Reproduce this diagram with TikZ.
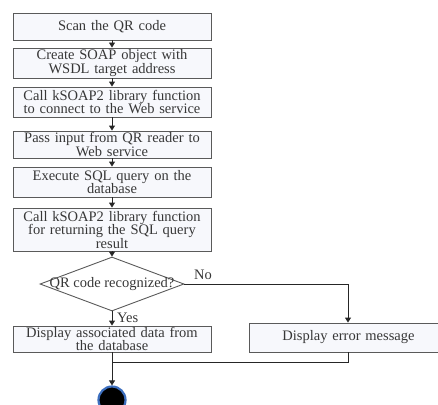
\documentclass[tikz,border=0pt]{standalone}
\usepackage{fontspec}
\setmainfont{Liberation Serif}
\usetikzlibrary{arrows.meta,shapes.geometric}
\definecolor{boxfill}{RGB}{247,248,252}
\definecolor{boxline}{RGB}{90,90,90}
\definecolor{txt}{RGB}{55,55,55}
\definecolor{rim}{RGB}{60,110,190}
\tikzset{
  procbox/.style={draw=boxline, fill=boxfill, line width=0.9pt, minimum width=198pt, text width=196pt, align=center, inner sep=0pt, text=txt, font={\fontsize{14.5}{13.5}\selectfont}},
  decision/.style={draw=boxline, diamond, line width=0.9pt, minimum width=144pt, minimum height=54pt, inner sep=0pt},
  lbl/.style={text=txt, font={\fontsize{14.5}{13.5}\selectfont}, inner sep=0pt},
  flow/.style={draw=black!85, line width=0.9pt, -{Triangle[length=5pt,width=6pt]}},
  plain/.style={draw=black!85, line width=0.9pt},
  endnode/.style={circle, fill=black, draw=rim, line width=2.2pt, minimum size=27pt, inner sep=0pt}
}
\begin{document}
\begin{tikzpicture}[x=1pt,y=-1pt]
\useasboundingbox (0,0) rectangle (438,404);
\clip (0,0) rectangle (438,404);
\node[procbox, minimum height=27pt] (b1) at (112,26.5) {Scan the QR code};
\node[procbox, minimum height=30pt] (b2) at (112,63) {Create SOAP object with\\WSDL target address};
\node[procbox, minimum height=30pt] (b3) at (112,102) {Call kSOAP2 library function\\to connect to the Web service};
\node[procbox, minimum height=27pt] (b4) at (112,144.5) {Pass input from QR reader to\\Web service};
\node[procbox, minimum height=30pt] (b5) at (112,182) {Execute SQL query on the\\database};
\node[procbox, minimum height=43pt] (b6) at (112,229.5) {Call kSOAP2 library function\\for returning the SQL query\\result};
\node[decision] (dec) at (112,284) {};
\node[lbl] (dectext) at (dec.center) {QR code recognized?};
\node[procbox, minimum height=26pt] (b7) at (112,339) {Display associated data from\\the database};
\node[procbox, minimum height=29pt, minimum width=199pt] (err) at (348.5,337.5) {Display error message};
\node[endnode] (end) at (112,400) {};
\coordinate (noturn) at (348,284);
\coordinate (join) at (112,362);
\node[lbl, anchor=west] (yes) at (117,318) {Yes};
\node[lbl, anchor=west] (no) at (194,275) {No};
\draw[flow] (b1) -- (b2);
\draw[flow] (b2) -- (b3);
\draw[flow] (b3) -- (b4);
\draw[flow] (b4) -- (b5);
\draw[flow] (b5) -- (b6);
\draw[flow] (b6) -- (dec.north);
\draw[flow] (dec.south) -- (b7);
\draw[flow] (dec.east) -- (noturn) -- (err.north -| noturn);
\draw[flow] (b7) -- (end);
\draw[plain] (err.south -| noturn) |- (join);
\end{tikzpicture}
\end{document}
